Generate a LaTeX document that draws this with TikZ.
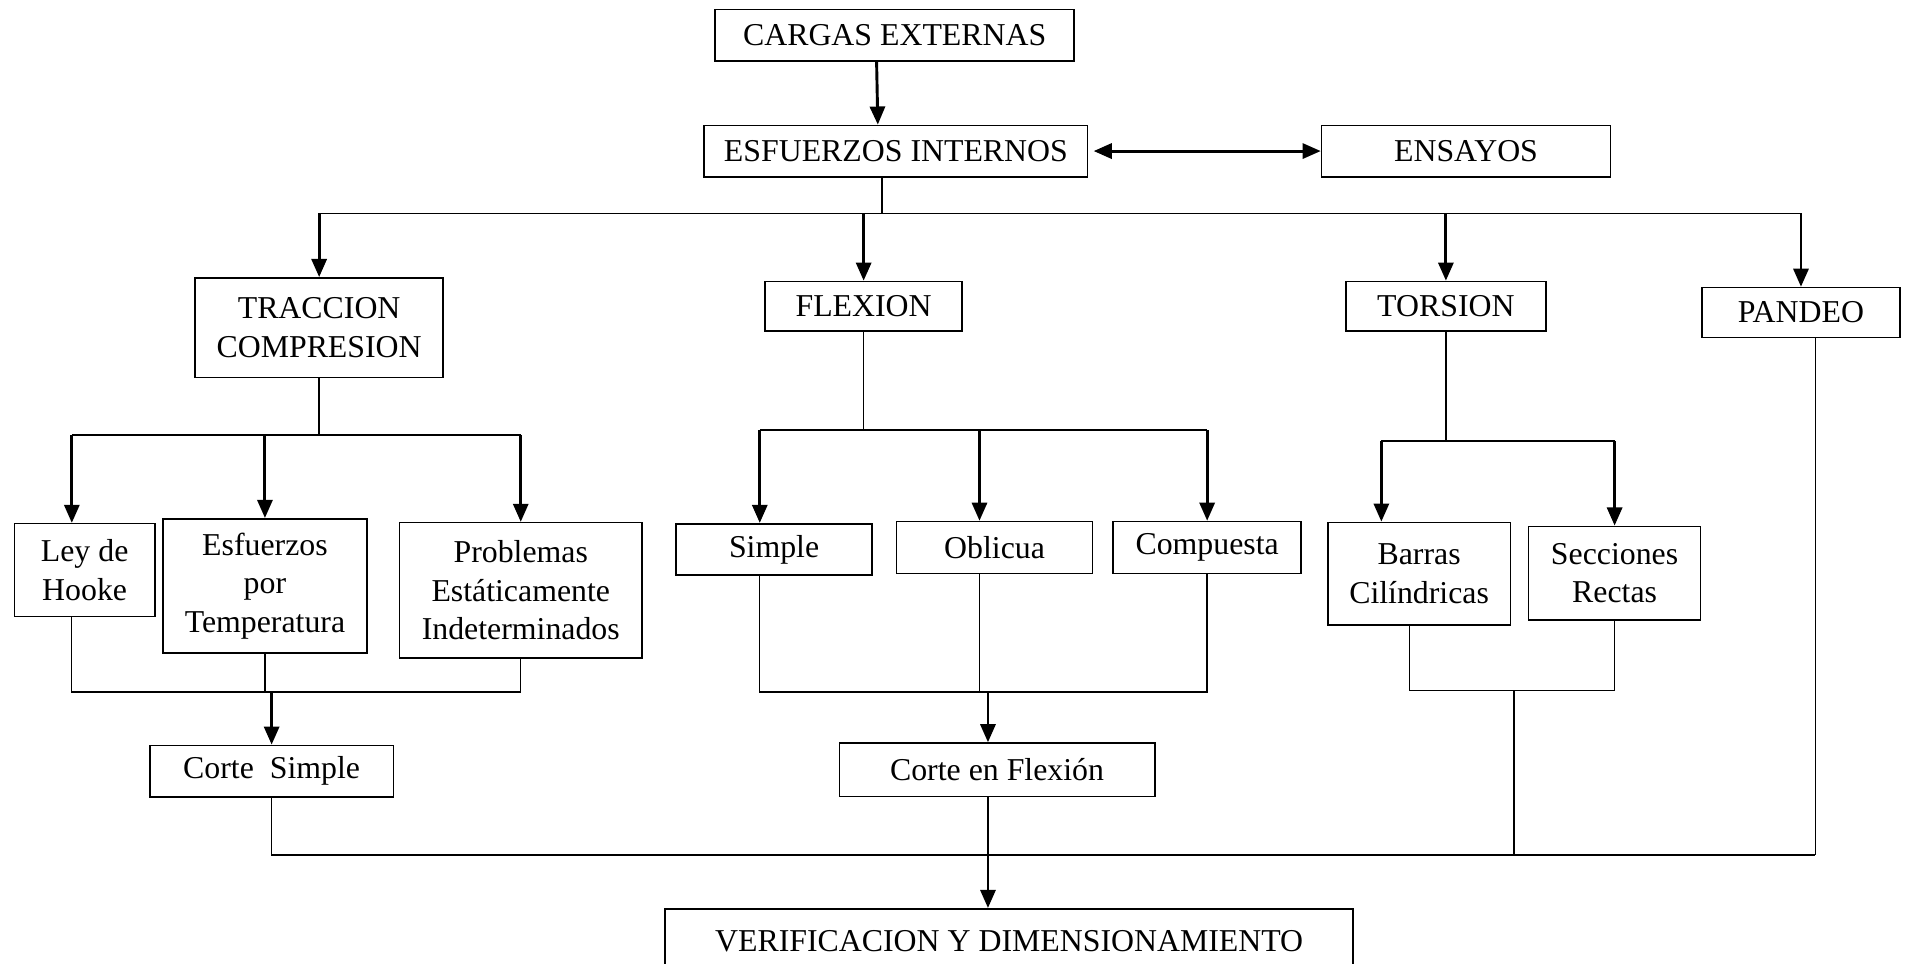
\documentclass[tikz,border=0pt]{standalone}
\usepackage{fontspec}
\setmainfont{Liberation Serif}
\usepackage{tikz}
\usetikzlibrary{arrows.meta, positioning, calc}
\tikzset{
	caja/.style  ={rectangle, draw=black, line width=0.6pt, align=center, inner sep=2pt},
	flecha/.style={-{Triangle[length=2.4mm, width=2mm]}, line width=1.1pt},
	doble/.style ={{Triangle[length=2.4mm, width=2mm]}-{Triangle[length=2.4mm, width=2mm]}, line width=1.1pt},
	linea/.style ={line width=0.5pt},
}

\begin{document}
\begin{tikzpicture}[x=0.01614cm, y=-0.01614cm, font=\fontsize{12}{14.5}\selectfont]
	\useasboundingbox (0,0) rectangle (1568,791);
	\node[caja, minimum width=4.76cm, minimum height=0.68cm] (cargas) at (734.5,29) {CARGAS EXTERNAS};
	\node[caja, minimum width=5.08cm, minimum height=0.68cm] (esf) at (735.5,124) {ESFUERZOS INTERNOS};
	\node[caja, minimum width=3.83cm, minimum height=0.68cm] (ensayos) at (1203.5,124) {ENSAYOS};
	\node[caja, minimum width=3.29cm, minimum height=1.32cm] (trac) at (262,269) {TRACCION\\ COMPRESION};
	\node[caja, minimum width=2.61cm, minimum height=0.66cm] (flex) at (709,251.5) {FLEXION};
	\node[caja, minimum width=2.65cm, minimum height=0.66cm] (tors) at (1187,251.5) {TORSION};
	\node[caja, minimum width=2.63cm, minimum height=0.66cm] (pand) at (1478.5,256.5) {PANDEO};
	\node[caja, minimum width=1.86cm, minimum height=1.23cm] (hooke) at (69.5,468) {Ley de\\ Hooke};
	\node[caja, minimum width=2.70cm, minimum height=1.78cm] (temp) at (217.5,481) {Esfuerzos\\ por\\ Temperatura};
	\node[caja, minimum width=3.21cm, minimum height=1.79cm] (prob) at (427.5,484.5) {Problemas\\ Estáticamente\\ Indeterminados};
	\node[caja, minimum width=2.60cm, minimum height=0.68cm] (simple) at (635.5,451) {Simple};
	\node[caja, minimum width=2.60cm, minimum height=0.69cm] (obl) at (816.5,449.5) {Oblicua};
	\node[caja, minimum width=2.49cm, minimum height=0.69cm] (comp) at (991,449.5) {Compuesta};
	\node[caja, minimum width=2.42cm, minimum height=1.36cm] (barras) at (1165,471) {Barras\\ Cilíndricas};
	\node[caja, minimum width=2.28cm, minimum height=1.24cm] (secc) at (1325.5,470.5) {Secciones\\ Rectas};
	\node[caja, minimum width=3.23cm, minimum height=0.68cm] (corteS) at (223,633) {Corte\ \ Simple};
	\node[caja, minimum width=4.18cm, minimum height=0.71cm] (corteF) at (818.5,632) {Corte en Flexión};
	\node[caja, minimum width=9.12cm, minimum height=0.87cm] (verif) at (828.5,773) {VERIFICACION Y DIMENSIONAMIENTO};
	% junctions
	\coordinate (j0) at (724,175);
	\coordinate (j1) at (259,357);
	\coordinate (j2) at (708,353);
	\coordinate (j3) at (1190,362);
	\coordinate (k1) at (221,568);
	\coordinate (k2) at (810,568);
	\coordinate (k3) at (1243,567);
	\coordinate (m) at (812,702);
	\coordinate (xh) at ([xshift=-0.17cm]hooke.center);
	\coordinate (xs) at ([xshift=-0.19cm]simple.center);
	\coordinate (xo) at ([xshift=-0.2cm]obl.center);
	\coordinate (xf) at ([xshift=-0.12cm]corteF.center);
	\coordinate (xbt) at ([xshift=-0.5cm]barras.center);
	\coordinate (xbb) at ([xshift=-0.13cm]barras.center);
	\coordinate (xp) at ([xshift=0.19cm]pand.center);
	\draw[flecha] ([xshift=-0.24cm]cargas.south) -- ([xshift=-0.24cm]esf.north);
	\draw[doble, shorten <=2pt] (esf.east) -- (ensayos.west);
	\draw[linea] (esf.south -| j0) -- (j0);
	\draw[linea] (trac.north |- j0) -- (pand.north |- j0);
	\foreach \n in {trac, flex, tors, pand}
		\draw[flecha] (\n.north |- j0) -- (\n.north);
	% traccion
	\draw[linea] (trac.south) -- (trac.south |- j1);
	\draw[linea] (xh |- j1) -- (prob.north |- j1);
	\draw[flecha] (xh |- j1) -- (xh |- hooke.north);
	\draw[flecha] (temp.north |- j1) -- (temp.north);
	\draw[flecha] (prob.north |- j1) -- (prob.north);
	\draw[linea] (xh |- hooke.south) -- (xh |- k1) -- (prob.south |- k1) -- (prob.south);
	\draw[linea] (temp.south) -- (temp.south |- k1);
	\draw[flecha] (corteS.north |- k1) -- (corteS.north);
	% flexion
	\draw[linea] (flex.south) -- (flex.south |- j2);
	\draw[linea] (xs |- j2) -- (comp.north |- j2);
	\draw[flecha] (xs |- j2) -- (xs |- simple.north);
	\draw[flecha] (xo |- j2) -- (xo |- obl.north);
	\draw[flecha] (comp.north |- j2) -- (comp.north);
	\draw[linea] (xs |- simple.south) -- (xs |- k2) -- (comp.south |- k2) -- (comp.south);
	\draw[linea] (xo |- obl.south) -- (xo |- k2);
	\draw[flecha] (xf |- k2) -- (xf |- corteF.north);
	% torsion
	\draw[linea] (tors.south) -- (tors.south |- j3);
	\draw[linea] (xbt |- j3) -- (secc.north |- j3);
	\draw[flecha] (xbt |- j3) -- (xbt |- barras.north);
	\draw[flecha] (secc.north |- j3) -- (secc.north);
	\draw[linea] (xbb |- barras.south) -- (xbb |- k3) -- (secc.south |- k3) -- (secc.south);
	\draw[linea] (k3) -- (k3 |- m);
	% salida
	\draw[linea] (xp |- pand.south) -- (xp |- m);
	\draw[linea] (corteS.south) -- (corteS.south |- m) -- (xp |- m);
	\draw[linea] (xf |- corteF.south) -- (xf |- m);
	\draw[flecha] (xf |- m) -- (xf |- verif.north);
\end{tikzpicture}
\end{document}
